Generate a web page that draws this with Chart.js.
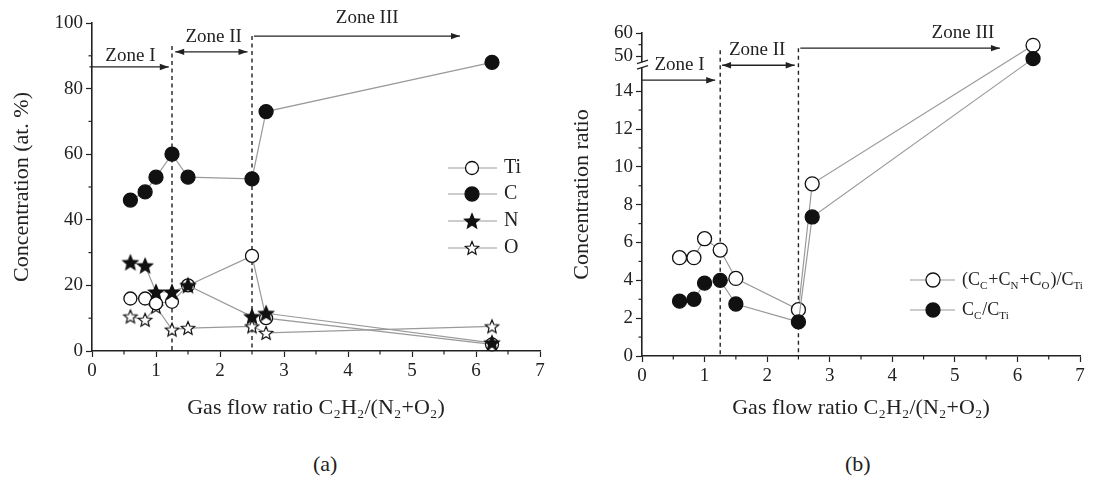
<!DOCTYPE html>
<html>
<head>
<meta charset="utf-8">
<script src="https://cdn.jsdelivr.net/npm/chart.js@4.4.0/dist/chart.umd.min.js"></script>
<style>
  html,body{margin:0;padding:0;background:#fff;}
  #wrap{position:relative;width:1104px;height:481px;overflow:hidden;font-family:"Liberation Serif","Times New Roman",serif;color:#222;}
  canvas{position:absolute;top:0;}
  #cA{left:0;}
  #cB{left:560px;}
  .cap{position:absolute;top:451px;font-size:22px;}
</style>
</head>
<body>
<div id="wrap">
  <canvas id="cA" width="560" height="440"></canvas>
  <canvas id="cB" width="544" height="440"></canvas>
  <div class="cap" style="left:313px">(a)</div>
  <div class="cap" style="left:845px">(b)</div>
</div>
<script>
(function(){
  // data
  const FLOW  = [0.6, 0.83, 1.0, 1.25, 1.5, 2.5, 2.72, 6.25];
  const TI    = [16, 16, 14.5, 15, 20, 29, 10, 2];
  const C     = [46, 48.5, 53, 60, 53, 52.5, 73, 88];
  const N     = [27, 26, 18, 18, 20, 10.5, 11.5, 2.5];
  const O     = [10.5, 9.5, 13.5, 6.5, 7, 7.5, 5.5, 7.5];
  const R_ALL = [5.2, 5.2, 6.2, 5.6, 4.1, 2.45, 9.1, 54.7];
  const R_C   = [2.9, 3.0, 3.85, 4.0, 2.75, 1.8, 7.35, 49];

  const X_TICKS   = [0,1,2,3,4,5,6,7];
  const X_MINOR   = [0.5,1.5,2.5,3.5,4.5,5.5,6.5];
  const Y_TICKS_A = [0,20,40,60,80,100];
  const Y_MINOR_A = [10,30,50,70,90];
  const Y_TICKS_B = [0,2,4,6,8,10,12,14,50,60];
  const Y_MINOR_B = [1,3,5,7,9,11,13,55];

  const FONT = '"Liberation Serif","Times New Roman",serif';
  const INK = '#222', LINE = '#9a9a9a';
  const X_TITLE = 'Gas flow ratio C\u2082H\u2082/(N\u2082+O\u2082)';

  Chart.defaults.font.family = FONT;
  Chart.defaults.color = INK;

  // broken y axis for panel (b): 0..15.4 linear, then 46.4.. compressed
  const BRK_LO = 15.4, BRK_HI = 46.4, UP_K = 0.1232;
  const toAxis   = v => v <= BRK_LO ? v : BRK_LO + (Math.max(v,BRK_HI)-BRK_HI)*UP_K;
  const fromAxis = d => d <= BRK_LO ? d : BRK_HI + (d-BRK_LO)/UP_K;
  class BrokenScale extends Chart.LinearScale {
    determineDataLimits(){ this.min = 0; this.max = toAxis(60); }
    buildTicks(){ return Y_TICKS_B.map(v=>({value:v})); }
    getPixelForValue(v){ return v==null ? NaN : super.getPixelForValue(toAxis(v)); }
    getValueForPixel(p){ return fromAxis(super.getValueForPixel(p)); }
  }
  BrokenScale.id = 'broken';
  Chart.register(BrokenScale);

  function makeStar(filled, R){
    const s = Math.ceil(R*2+4), c = document.createElement('canvas');
    c.width = s; c.height = s;
    const g = c.getContext('2d'), r = R*0.45;
    g.beginPath();
    for(let i=0;i<10;i++){
      const a = -Math.PI/2 + i*Math.PI/5, rr = i%2 ? r : R;
      const px = s/2 + rr*Math.cos(a), py = s/2 + 0.6 + rr*Math.sin(a);
      i ? g.lineTo(px,py) : g.moveTo(px,py);
    }
    g.closePath();
    g.fillStyle = filled ? '#111' : '#fff'; g.fill();
    g.lineWidth = 1.2; g.strokeStyle = '#111'; g.stroke();
    return c;
  }
  const STAR_F = makeStar(true, 7.8), STAR_O = makeStar(false, 7);

  const series = ys => FLOW.map((x,i)=>({x, y:ys[i]}));
  function ds(label, ys, style, fill, radius, order){
    return {label, data:series(ys), order, pointStyle:style, pointRadius:radius, pointHoverRadius:radius,
      pointBackgroundColor:fill, pointBorderColor:'#111', pointBorderWidth:1.3,
      borderColor:LINE, borderWidth:1.2, tension:0, showLine:true, clip:false};
  }

  function line(ctx,x1,y1,x2,y2){ ctx.beginPath(); ctx.moveTo(x1,y1); ctx.lineTo(x2,y2); ctx.stroke(); }
  function head(ctx,x,y,dir){ ctx.beginPath(); ctx.moveTo(x,y); ctx.lineTo(x-dir*9,y-3.2); ctx.lineTo(x-dir*9,y+3.2); ctx.closePath(); ctx.fill(); }
  function rich(ctx, parts, x, y, size){
    ctx.textAlign='left'; ctx.textBaseline='middle';
    parts.forEach(([t,sub])=>{
      ctx.font = `${sub?Math.round(size*0.6):size}px ${FONT}`;
      ctx.fillText(t, x, sub ? y+6 : y);
      x += ctx.measureText(t).width + (sub?1:0);
    });
  }

  function decor(cfg){
    return {
      id:'decor',
      beforeDatasetsDraw(chart){
        const {ctx, chartArea:ca, scales:{x,y}} = chart;
        ctx.save();
        ctx.strokeStyle = INK; ctx.fillStyle = INK; ctx.lineWidth = 1.2;
        cfg.minorX.forEach(v=>{ const px=x.getPixelForValue(v); line(ctx,px,ca.bottom,px,ca.bottom+3.5); });
        cfg.minorY.forEach(v=>{ const py=y.getPixelForValue(v); line(ctx,ca.left,py,ca.left-3.5,py); });
        // zone dividers
        ctx.setLineDash([4,3.5]); ctx.lineWidth = 1.4;
        cfg.dividers.forEach(d=>{ const px=x.getPixelForValue(d.x); line(ctx,px,y.getPixelForValue(d.top),px,ca.bottom); });
        ctx.setLineDash([]);
        // zone arrows and labels
        ctx.lineWidth = 1.3;
        ctx.font = `19px ${FONT}`; ctx.textAlign='center'; ctx.textBaseline='middle';
        cfg.zones.forEach(z=>{
          const x1=x.getPixelForValue(z.from), x2=x.getPixelForValue(z.to), ay=y.getPixelForValue(z.ay);
          line(ctx,x1,ay,x2,ay);
          if(z.heads.includes('r')) head(ctx,x2,ay,1);
          if(z.heads.includes('l')) head(ctx,x1,ay,-1);
          ctx.fillText(z.text, x.getPixelForValue(z.tx), y.getPixelForValue(z.ty));
        });
        // axis break mark
        if(cfg.breakAt!=null){
          const py = y.getPixelForValue(cfg.breakAt), lx = ca.left;
          ctx.fillStyle='#fff'; ctx.fillRect(lx-3, py-2.5, 6, 5);
          ctx.lineWidth = 1.2;
          line(ctx,lx-5,py-1,lx+6,py-4.5);
          line(ctx,lx-5,py+4.5,lx+6,py+1);
        }
        ctx.restore();
      },
      afterDraw(chart){
        const {ctx} = chart, L = cfg.legend;
        ctx.save();
        L.items.forEach(it=>{
          ctx.strokeStyle = LINE; ctx.lineWidth = 1.2;
          line(ctx, L.x1, it.y, L.x2, it.y);
          ctx.fillStyle = it.fill; ctx.strokeStyle = '#111'; ctx.lineWidth = 1.3;
          Chart.helpers.drawPoint(ctx, {pointStyle:it.style, radius:it.radius, borderWidth:1.3, rotation:0}, L.mx, it.y);
          ctx.fillStyle = INK;
          rich(ctx, it.parts, L.tx, it.y, L.size);
        });
        ctx.restore();
      }
    };
  }

  function axisX(plot, H){
    return {
      type:'linear', min:0, max:7,
      afterBuildTicks: s => { s.ticks = X_TICKS.map(v=>({value:v})); },
      afterFit: s => { s.height = H - plot.bottom; },
      grid:{display:true, drawOnChartArea:false, drawTicks:true, tickLength:6, tickWidth:1.2, tickColor:INK},
      border:{display:true, color:INK, width:1.6},
      ticks:{font:{size:19}, color:INK, padding:3, maxRotation:0, autoSkip:false},
      title:{display:true, text:X_TITLE, font:{size:22}, color:INK, padding:{top:0,bottom:19}}
    };
  }
  function axisY(plot, extra, title){
    return Object.assign({
      afterFit: s => { s.width = plot.left; },
      grid:{display:true, drawOnChartArea:false, drawTicks:true, tickLength:6, tickWidth:1.2, tickColor:INK},
      border:{display:true, color:INK, width:1.6},
      ticks:{font:{size:19}, color:INK, padding:3, autoSkip:false, callback:v=>v},
      title:{display:true, text:title, font:{size:22}, color:INK, padding:{top:9,bottom:0}}
    }, extra);
  }

  function build(id, W, H, plot, datasets, yExtra, yTitle, cfg){
    return new Chart(document.getElementById(id), {
      type:'line',
      data:{datasets},
      options:{
        responsive:false, animation:false, devicePixelRatio:1,
        layout:{padding:{left:0, top:plot.top, right:W-plot.right, bottom:0}},
        plugins:{legend:{display:false}, tooltip:{enabled:false}},
        scales:{x:axisX(plot,H), y:axisY(plot,yExtra,yTitle)}
      },
      plugins:[decor(cfg)]
    });
  }

  // panel (a)
  const plotA = {left:92, right:540, top:23, bottom:351};
  build('cA', 560, 440, plotA, [
    ds('Ti', TI, 'circle', '#fff', 6.5, 2),
    ds('C',  C,  'circle', '#111', 7, 1),
    ds('N',  N,  STAR_F,   '#111', 8, 0),
    ds('O',  O,  STAR_O,   '#fff', 7, 3)
  ], {
    type:'linear', min:0, max:100,
    afterBuildTicks: s => { s.ticks = Y_TICKS_A.map(v=>({value:v})); }
  }, 'Concentration (at. %)', {
    minorX:X_MINOR, minorY:Y_MINOR_A,
    dividers:[{x:1.25, top:93}, {x:2.5, top:96}],
    zones:[
      {text:'Zone I',   tx:0.6, ty:89.8,  from:-0.04, to:1.2,  ay:86.6, heads:'r'},
      {text:'Zone II',  tx:1.9, ty:95.8,  from:1.3,   to:2.43, ay:91.2, heads:'lr'},
      {text:'Zone III', tx:4.3, ty:101.6, from:2.53,  to:5.75, ay:96,   heads:'r'}
    ],
    legend:{x1:448, x2:497, mx:472, tx:504, size:20, items:[
      {parts:[['Ti',0]], style:'circle', fill:'#fff', radius:6.5, y:168},
      {parts:[['C',0]],  style:'circle', fill:'#111', radius:7,   y:194},
      {parts:[['N',0]],  style:STAR_F,   fill:'#111', radius:8,   y:221},
      {parts:[['O',0]],  style:STAR_O,   fill:'#fff', radius:7,   y:248}
    ]}
  });

  // panel (b)
  const plotB = {left:82, right:520, top:33, bottom:356};
  build('cB', 544, 440, plotB, [
    ds('(Cc+Cn+Co)/Cti', R_ALL, 'circle', '#fff', 7, 1),
    ds('Cc/Cti',         R_C,   'circle', '#111', 7, 0)
  ], {type:'broken'}, 'Concentration ratio', {
    minorX:X_MINOR, minorY:Y_MINOR_B, breakAt:BRK_LO,
    dividers:[{x:1.25, top:52.6}, {x:2.5, top:53.5}],
    zones:[
      {text:'Zone I',   tx:0.6,  ty:15.37, from:0,    to:1.17, ay:14.58, heads:'r'},
      {text:'Zone II',  tx:1.84, ty:52.6,  from:1.28, to:2.44, ay:15.37, heads:'lr'},
      {text:'Zone III', tx:5.13, ty:59.9,  from:2.53, to:5.72, ay:53.5,  heads:'r'}
    ],
    legend:{x1:350, x2:395, mx:373, tx:402, size:18, items:[
      {parts:[['(C',0],['C',1],['+C',0],['N',1],['+C',0],['O',1],[')/C',0],['Ti',1]], style:'circle', fill:'#fff', radius:7, y:280},
      {parts:[['C',0],['C',1],['/C',0],['Ti',1]], style:'circle', fill:'#111', radius:7, y:310}
    ]}
  });
})();
</script>
</body>
</html>
